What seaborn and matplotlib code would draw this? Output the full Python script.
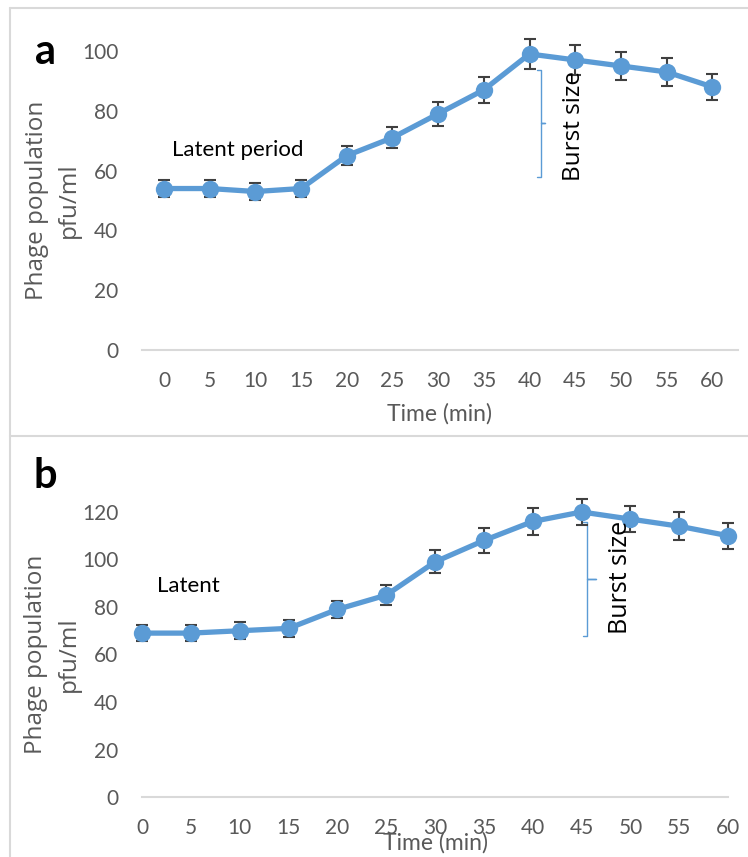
import matplotlib
matplotlib.use("Agg")
import matplotlib.pyplot as plt
import seaborn as sns
from matplotlib.lines import Line2D

# One-step growth curves
TIME = [0, 5, 10, 15, 20, 25, 30, 35, 40, 45, 50, 55, 60]
PHAGE_A = [54, 54, 53, 54, 65, 71, 79, 87, 99, 97, 95, 93, 88]
ERR_A = [2.7, 2.7, 2.7, 2.7, 3.2, 3.5, 4.0, 4.3, 5.0, 5.0, 4.7, 4.6, 4.3]
PHAGE_B = [69, 69, 70, 71, 79, 85, 99, 108, 116, 120, 117, 114, 110]
ERR_B = [3.5, 3.5, 3.6, 3.6, 3.7, 4.2, 4.9, 5.3, 5.5, 5.6, 5.6, 5.8, 5.5]

BLUE = "#5B9BD5"
GREY = "#595959"
BAR = "#404040"
FRAME = "#D9D9D9"

sns.set_theme(style="white")
plt.rcParams["font.family"] = ["Lato", "DejaVu Sans"]

fig = plt.figure(figsize=(7.48, 8.57), dpi=100)


def draw_panel(ax, values, errors, ylim, yticks):
    ax.errorbar(TIME, values, yerr=errors, fmt="none", ecolor=BAR, elinewidth=1.5,
                capsize=4.3, capthick=1.5, zorder=2, clip_on=False)
    sns.lineplot(x=TIME, y=values, ax=ax, color=BLUE, linewidth=3.8, marker="o",
                 markersize=12.5, markeredgecolor=BLUE, markeredgewidth=0, clip_on=False,
                 zorder=3)
    ax.set_ylim(*ylim)
    ax.set_yticks(yticks)
    ax.set_xticks(TIME)
    for s in ["left", "top", "right"]:
        ax.spines[s].set_visible(False)
    ax.spines["bottom"].set_color(FRAME)
    ax.spines["bottom"].set_linewidth(1.5)
    ax.tick_params(axis="both", length=0, labelsize=15, colors=GREY)
    ax.tick_params(axis="y", pad=17)
    ax.tick_params(axis="x", pad=15)
    ax.set_xlabel("Time (min)", fontsize=16.5, color=GREY)
    ax.set_ylabel("Phage population\npfu/ml", fontsize=17.5, color=GREY, family="Open Sans",
                  linespacing=1.45, ha="center", va="center")


def brace(ax, x, ytop, ybot, ymid, w, wmid):
    ax.plot([x - w, x, x, x + wmid, x, x, x - w],
            [ytop, ytop, ymid, ymid, ymid, ybot, ybot],
            color=BLUE, linewidth=1.0, zorder=1)


# panel a
ax1 = fig.add_axes([0.19, 0.5916, 0.797, 0.3489])
draw_panel(ax1, PHAGE_A, ERR_A, (0, 100), [0, 20, 40, 60, 80, 100])
ax1.set_xlim(-2.4, 62.85)
ax1.xaxis.set_label_coords(0.498, -0.178)
ax1.yaxis.set_label_coords(-0.150, 0.5)
ax1.text(0.9, 67, "Latent period", fontsize=16, color="black", ha="left", va="center")
brace(ax1, 41.3, 93.7, 58, 75.8, 0.45, 0.45)
ax1.text(44.9, 75, "Burst size", fontsize=17.5, family="Open Sans", color="black",
         rotation=90, ha="center", va="center")

# panel b
ax2 = fig.add_axes([0.19, 0.0700, 0.7834, 0.3326])
draw_panel(ax2, PHAGE_B, ERR_B, (0, 120), [0, 20, 40, 60, 80, 100, 120])
ax2.set_xlim(0, 60)
ax2.xaxis.set_label_coords(0.50, -0.122)
ax2.yaxis.set_label_coords(-0.153, 0.5)
ax2.text(1.5, 89, "Latent", fontsize=16, color="black", ha="left", va="center")
brace(ax2, 45.6, 115.8, 67.8, 91.8, 0.5, 0.9)
ax2.text(49.0, 92.5, "Burst size", fontsize=18, family="Open Sans", color="black",
         rotation=90, ha="center", va="center")

# panel letters
fig.text(45 / 748, 1 - 52 / 857, "a", fontsize=30, fontweight="bold", color="black",
         ha="center", va="center")
fig.text(45 / 748, 1 - 476 / 857, "b", fontsize=30, fontweight="bold", color="black",
         ha="center", va="center")

# chart frames
x0, ytop, ysep = 10 / 748, 1 - 8 / 857, 1 - 436 / 857
for xs, ys in [([x0, 1], [ytop, ytop]), ([x0, x0], [0, ytop]), ([x0, 1], [ysep, ysep])]:
    fig.add_artist(Line2D(xs, ys, transform=fig.transFigure, color=FRAME, linewidth=1.5))

fig.savefig("out.png", dpi=100)
